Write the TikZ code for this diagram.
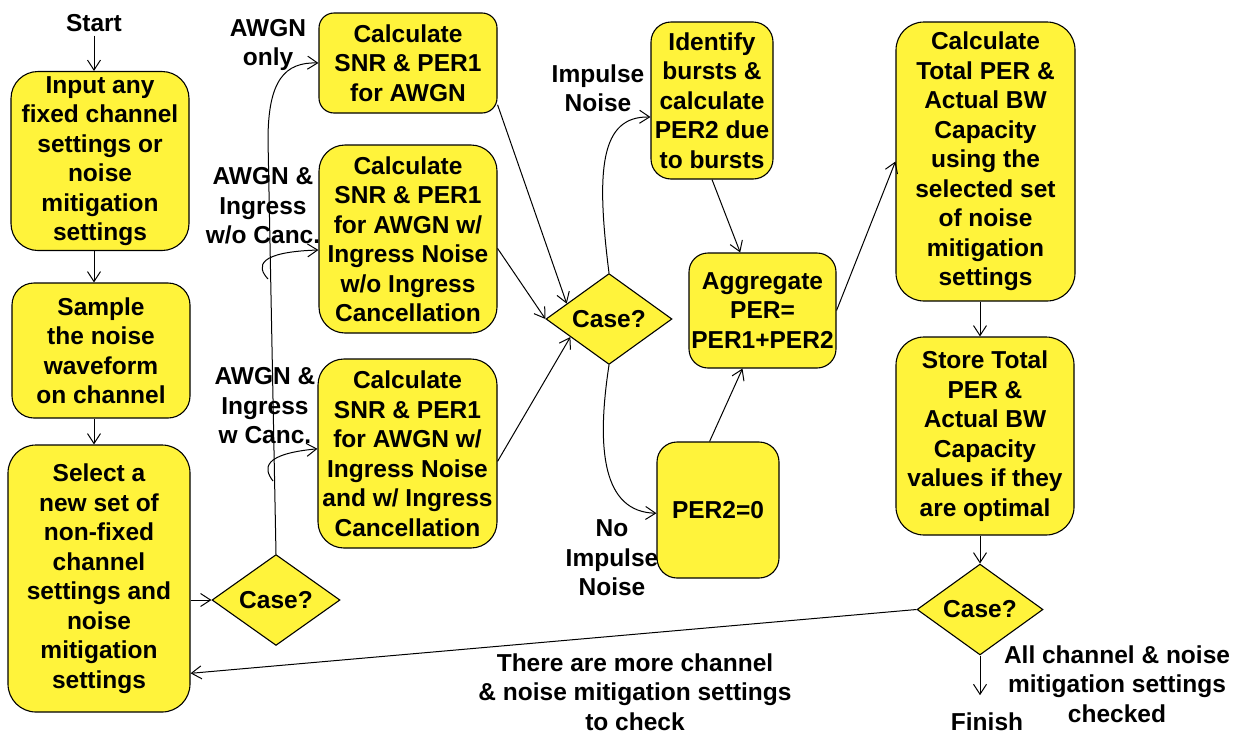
\documentclass[tikz,border=0pt]{standalone}
\usepackage{fontspec}
\setmainfont{Liberation Sans}
\usepackage{tikz}
\usetikzlibrary{shapes.geometric}
\usetikzlibrary{arrows.meta}
\usetikzlibrary{calc}

\definecolor{boxyellow}{RGB}{255,243,59}

\begin{document}
\begin{tikzpicture}[x=1pt, y=-1pt, line width=1pt,
  every node/.style={font=\fontsize{24.5}{29.5}\selectfont\bfseries, align=center},
  box/.style={draw, fill=boxyellow, line width=1.1pt, rounded corners=#1, inner sep=0pt},
  box/.default=25pt,
  case/.style={diamond, draw, fill=boxyellow, line width=1.1pt, inner sep=0pt},
  >={Straight Barb[length=10pt,width=13pt]}]
\useasboundingbox (0,0) rectangle (1236,734);

\node (start) at (94,23) {Start};
\node[box=27pt, minimum width=178pt, minimum height=179pt] (input) at (100,161) {Input any\\fixed channel\\settings or\\noise\\mitigation\\settings};
\node[box=22pt, minimum width=178pt, minimum height=135pt] (sample) at (101,350.5) {Sample\\the noise\\waveform\\on channel};
\node[box=28pt, minimum width=182pt, minimum height=267pt] (select) at (99,578.5) {Select a\\new set of\\non-fixed\\channel\\settings and\\noise\\mitigation\\settings};
\node[case, minimum width=128pt, minimum height=85pt] (case1) at (276,600) {Case?};

\node[box=15pt, minimum width=178pt, minimum height=100pt] (calc1) at (408,63) {Calculate\\SNR \& PER1\\for AWGN};
\node[box=26pt, minimum width=178pt, minimum height=188pt] (calc2) at (408,239) {Calculate\\SNR \& PER1\\for AWGN w/\\Ingress Noise\\w/o Ingress\\Cancellation};
\node[box=26pt, minimum width=179pt, minimum height=189pt] (calc3) at (407.5,453.5) {Calculate\\SNR \& PER1\\for AWGN w/\\Ingress Noise\\and w/ Ingress\\Cancellation};
\node[case, minimum width=126pt, minimum height=84pt] (case2) at (609,319) {Case?};

\node[box=20pt, minimum width=122pt, minimum height=157pt] (identify) at (712,100.5) {Identify\\bursts \&\\calculate\\PER2 due\\to bursts};
\node[box=20pt, minimum width=122pt, minimum height=136pt] (per2) at (718,510) {PER2=0};
\node[box=19pt, minimum width=147pt, minimum height=115pt] (aggregate) at (762.5,310.5) {Aggregate\\PER=\\PER1+PER2};

\node[box=28pt, minimum width=179pt, minimum height=279pt] (calctotal) at (985.5,161.5) {Calculate\\Total PER \&\\Actual BW\\Capacity\\using the\\selected set\\of noise\\mitigation\\settings};
\node[box=28pt, minimum width=178pt, minimum height=198pt] (store) at (985,436) {Store Total\\PER \&\\Actual BW\\Capacity\\values if they\\are optimal};
\node[case, minimum width=126pt, minimum height=85pt] (case3) at (980,609.5) {Case?};
\node (finish) at (987,722) {Finish};

\node (awgn) at (268,45) {AWGN\\only};
\node (awgnwo) at (263,206) {AWGN \&\\Ingress\\w/o Canc.};
\node (awgnw) at (265,406) {AWGN \&\\Ingress\\w Canc.};
\node (imp) at (598,88) {Impulse\\Noise};
\node (noimp) at (612,558) {No\\Impulse\\Noise};
\node (more) at (635,692) {There are more channel\\\& noise mitigation settings\\to check};
\node (done) at (1117,684) {All channel \& noise\\mitigation settings\\checked};

\coordinate (hook2) at (268,279);
\coordinate (hook3) at (273,481);

\draw[->] (start) -- (start |- input.north);
\draw[->] (input.south -| start) -- (sample.north -| start);
\draw[->] (sample.south -| start) -- (select.north -| start);
\draw[->] (select.east |- case1) -- (case1.west);
\draw[->] (case1.north) -- (268,140) .. controls (268,80) and (285,62) .. (calc1.west);
\draw[->] (hook2) .. controls (256,266) and (258,252) .. (calc2.187);
\draw[->] (hook3) .. controls (263,468) and (263,454) .. (calc3.177);
\draw[->] (calc1.-25) -- (case2.160);
\draw[->] (calc2.-6) -- (case2.west);
\draw[->] (calc3.-5) -- (case2.205);
\draw[->] (case2.north) .. controls (596,170) and (600,116) .. (identify.195);
\draw[->] (case2.south) .. controls (596,450) and (603,512) .. (per2.183);
\draw[->] (identify.south) -- (aggregate.111);
\draw[->] (per2.97) -- (aggregate.251);
\draw[->] (aggregate.east) -- (calctotal.west);
\draw[->] (calctotal.south -| case3.north) -- (store.north -| case3.north);
\draw[->] (store.south -| case3.north) -- (case3.north);
\draw[->, shorten >=14pt] (case3.south) -- (case3.south |- finish.north);
\draw[->] (case3.west) -- (select.-46);
\end{tikzpicture}
\end{document}
